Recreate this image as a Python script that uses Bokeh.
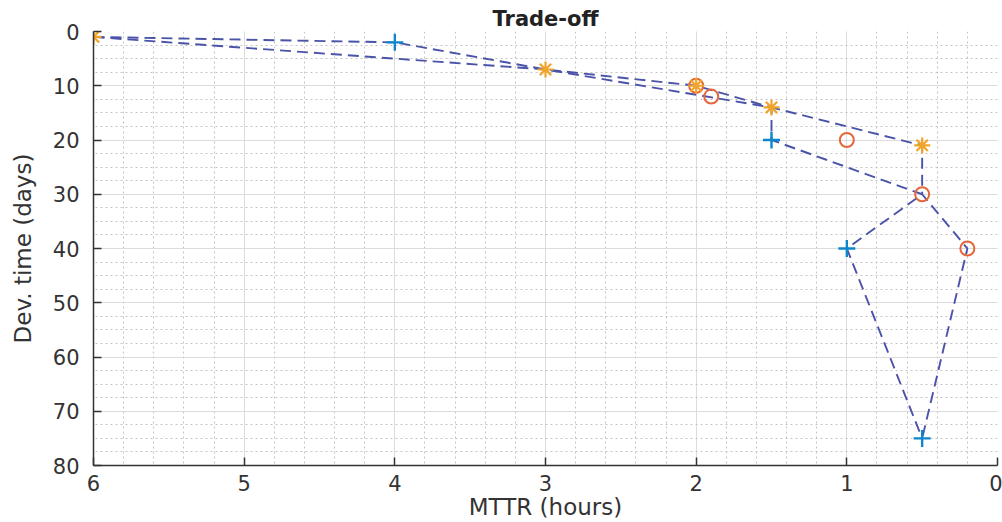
from bokeh.plotting import figure
from bokeh.models import Range1d, FixedTicker
from bokeh.embed import file_html
from bokeh.resources import INLINE

# ---- data (MTTR hours, Dev. time days) ----
path_a_x = [6, 4, 3, 2, 1.5, 1.5, 0.5, 1, 0.5]
path_a_y = [1, 2, 7, 10, 14, 20, 30, 40, 75]
path_b_x = [6, 3, 1.5, 0.5, 0.5, 0.2, 0.5]
path_b_y = [1, 7, 14, 21, 30, 40, 75]

star_x = [6, 3, 2, 1.5, 0.5]
star_y = [1, 7, 10, 14, 21]
plus_x = [4, 1.5, 1, 0.5]
plus_y = [2, 20, 40, 75]
circ_x = [2, 1.9, 1, 0.5, 0.2]
circ_y = [10, 12, 20, 30, 40]

x_ticks = [0, 1, 2, 3, 4, 5, 6]
y_ticks = [0, 10, 20, 30, 40, 50, 60, 70, 80]

FONT = "DejaVu Sans"
TXT = "#333333"

p = figure(width=1002, height=522, output_backend="svg", toolbar_location=None,
           x_range=Range1d(6, 0), y_range=Range1d(80, 0),
           title="Trade-off")
p.min_border_left = 93
p.min_border_right = 5
p.min_border_top = 31
p.min_border_bottom = 55
p.outline_line_color = None
p.background_fill_color = "white"
p.border_fill_color = "white"

p.title.align = "center"
p.title.text_font = FONT
p.title.text_font_size = "21px"
p.title.text_font_style = "bold"
p.title.text_color = "#222222"
p.title.standoff = 2

x_minor = [i * 0.2 for i in range(0, 31)]
y_minor = [i * 2.5 for i in range(0, 33)]
p.xaxis.ticker = FixedTicker(ticks=x_ticks, minor_ticks=x_minor)
p.yaxis.ticker = FixedTicker(ticks=y_ticks, minor_ticks=y_minor)

for ax in (p.xaxis, p.yaxis):
    ax.axis_line_color = "#333333"
    ax.axis_line_width = 1.5
    ax.major_tick_in = 8
    ax.major_tick_out = 0
    ax.major_tick_line_color = "#333333"
    ax.major_tick_line_width = 1.5
    ax.minor_tick_line_color = None
    ax.major_label_text_font = FONT
    ax.major_label_text_font_size = "21px"
    ax.major_label_text_color = TXT
    ax.axis_label_text_font = FONT
    ax.axis_label_text_font_size = "23px"
    ax.axis_label_text_font_style = "normal"
    ax.axis_label_text_color = TXT

p.xaxis.axis_label = "MTTR (hours)"
p.yaxis.axis_label = "Dev. time (days)"
p.xaxis.major_label_standoff = 5
p.yaxis.major_label_standoff = 10
p.xaxis.axis_label_standoff = 0
p.yaxis.axis_label_standoff = 14

for g in (p.xgrid, p.ygrid):
    g.grid_line_color = "#dcdcdc"
    g.grid_line_width = 1
    g.minor_grid_line_color = "#c4c4c4"
    g.minor_grid_line_dash = "2 3"
    g.minor_grid_line_width = 1

LINE = "#4A53A8"
p.line(path_a_x, path_a_y, line_color=LINE, line_width=1.9, line_dash="11 6")
p.line(path_b_x, path_b_y, line_color=LINE, line_width=1.9, line_dash="11 6")

p.scatter(circ_x, circ_y, marker="circle", size=14, fill_color=None,
          line_color="#E4673C", line_width=2)
p.scatter(star_x, star_y, marker="asterisk", size=16,
          line_color="#F0A52A", line_width=2.2)
p.scatter(plus_x, plus_y, marker="cross", size=17,
          line_color="#0E86CC", line_width=2.4)

open("out.html", "w").write(file_html(p, INLINE))
